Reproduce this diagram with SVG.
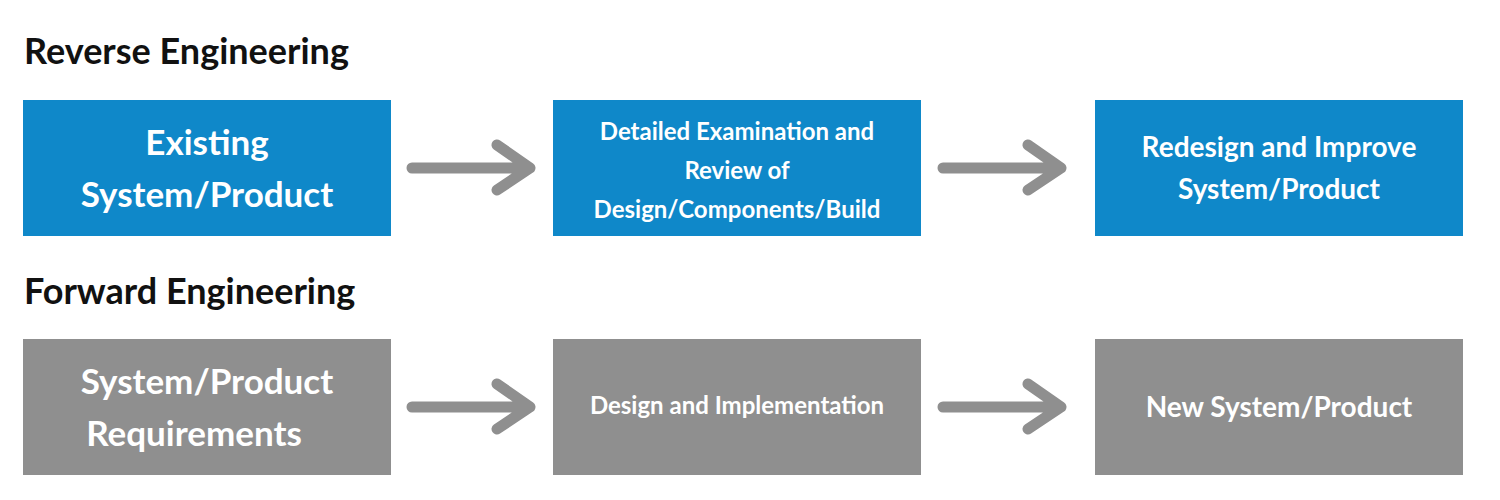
<svg xmlns="http://www.w3.org/2000/svg" width="1500" height="500" viewBox="0 0 1500 500">
<style>
.t{font-family:Lato,"Open Sans",sans-serif;font-weight:bold;fill:#fff;text-anchor:middle}
.h{font-family:Lato,"Open Sans",sans-serif;font-weight:bold;fill:#111;font-size:36px}
.b{fill:#0f88c9}.g{fill:#8f8f8f}
.a{stroke:#8f8f8f;fill:none;stroke-width:11;stroke-linecap:round;stroke-linejoin:round}
</style>
<rect width="1500" height="500" fill="#fff"/>
<text class="h" x="24" y="64">Reverse Engineering</text>
<text class="h" x="24" y="304">Forward Engineering</text>
<g id="n1"><rect class="b" x="23" y="100" width="368" height="136"/><text class="t" font-size="35"><tspan x="207" y="155">Existing</tspan><tspan x="207" y="207">System/Product</tspan></text></g>
<g id="n2"><rect class="b" x="553" y="100" width="368" height="136"/><text class="t" font-size="24"><tspan x="737" y="140">Detailed Examination and</tspan><tspan x="737" y="179">Review of</tspan><tspan x="737" y="218">Design/Components/Build</tspan></text></g>
<g id="n3"><rect class="b" x="1095" y="100" width="368" height="136"/><text class="t" font-size="28"><tspan x="1279" y="157">Redesign and Improve</tspan><tspan x="1279" y="199">System/Product</tspan></text></g>
<g id="n4"><rect class="g" x="23" y="339" width="368" height="136"/><text class="t" font-size="35"><tspan x="207" y="394">System/Product</tspan><tspan x="194" y="446">Requirements</tspan></text></g>
<g id="n5"><rect class="g" x="553" y="339" width="368" height="136"/><text class="t" font-size="24"><tspan x="737" y="414">Design and Implementation</tspan></text></g>
<g id="n6"><rect class="g" x="1095" y="339" width="368" height="136"/><text class="t" font-size="28"><tspan x="1279" y="417">New System/Product</tspan></text></g>
<g id="connectors">
<path class="a" d="M412 168H528M497 145L530 168L497 190"/>
<path class="a" d="M943 168H1059M1028 145L1061 168L1028 190"/>
<path class="a" d="M412 407H528M497 384L530 407L497 429"/>
<path class="a" d="M943 407H1059M1028 384L1061 407L1028 429"/>
</g>
</svg>
